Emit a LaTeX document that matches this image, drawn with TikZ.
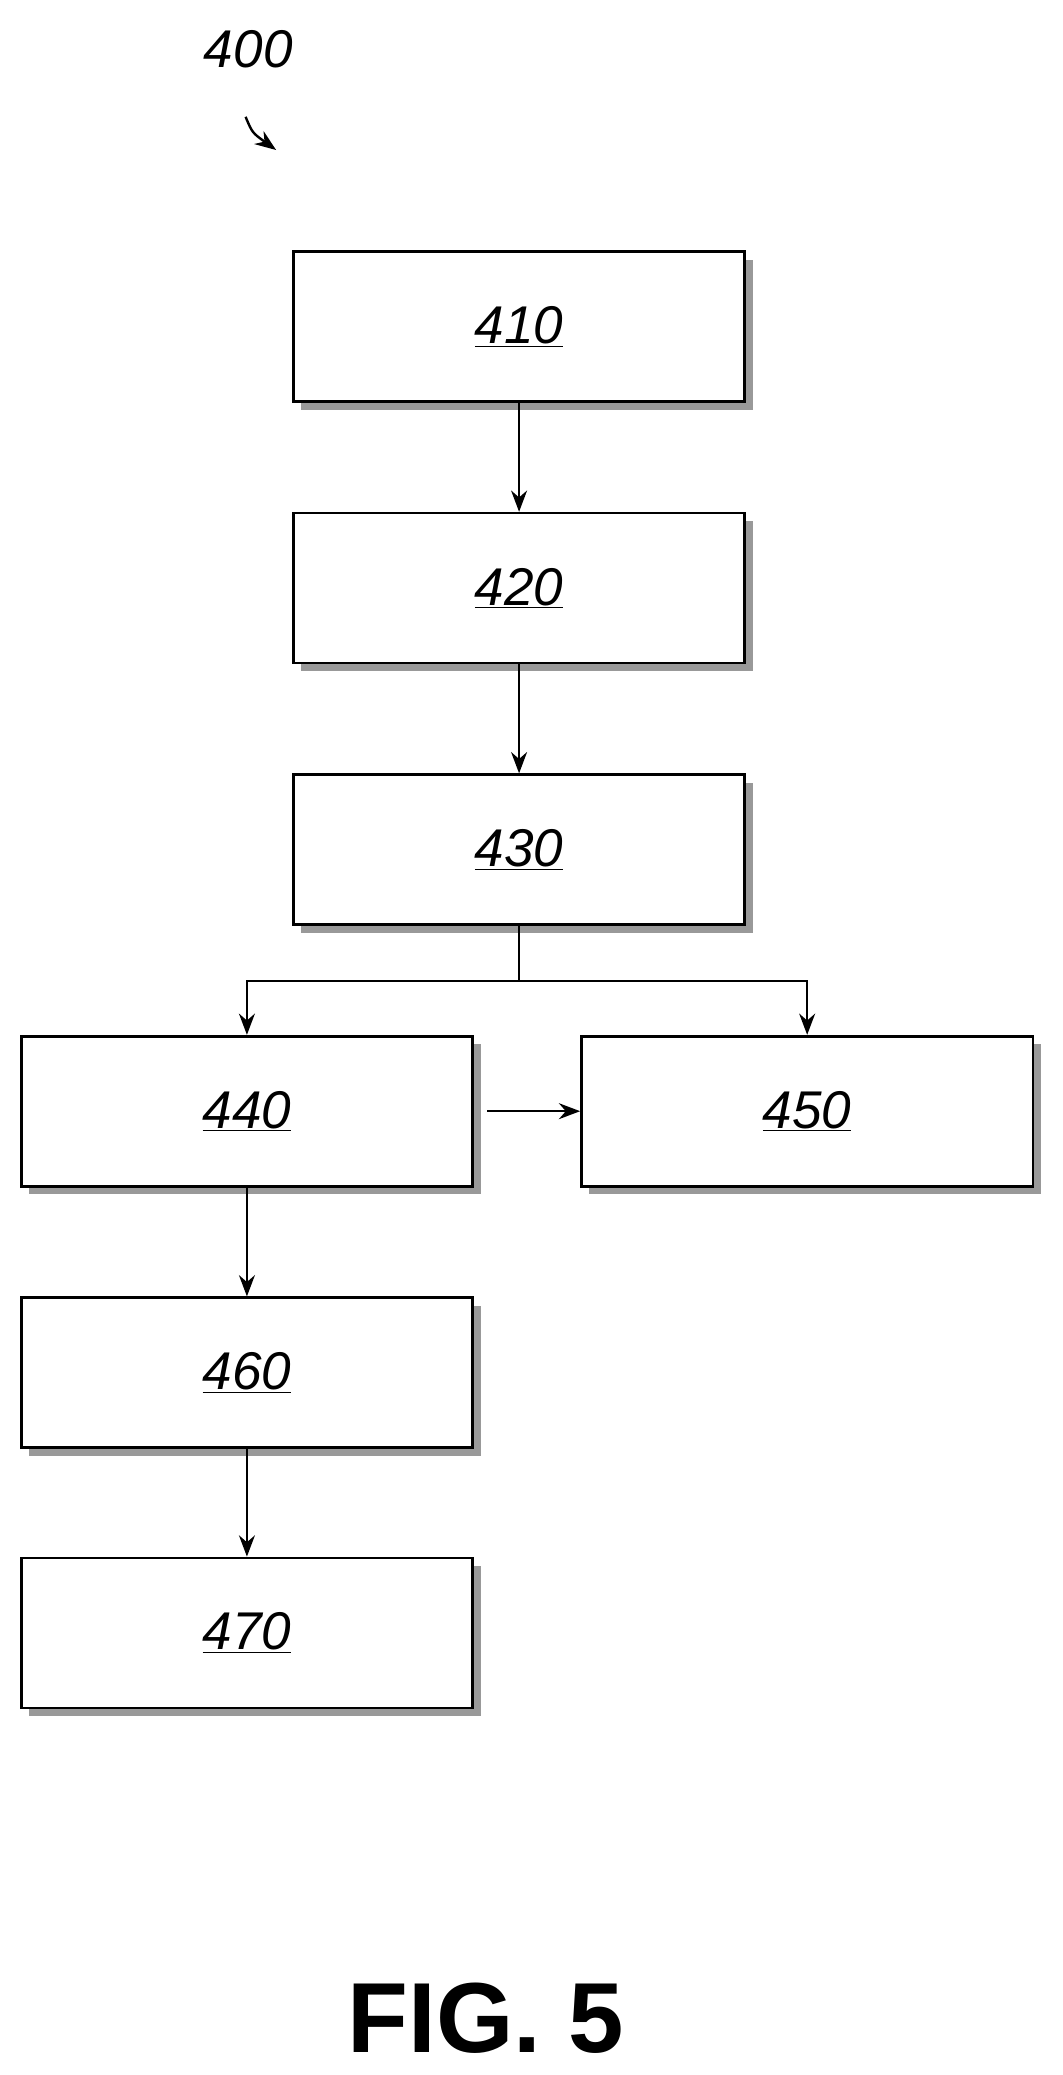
\documentclass[tikz,border=0pt]{standalone}
\usepackage{fontspec}
\setmainfont{Liberation Sans}
\usetikzlibrary{shadows,arrows.meta}
\tikzset{
    stepbox/.style={draw, line width=2pt, fill=white, minimum width=340pt, minimum height=113pt,
        font=\itshape\fontsize{40}{40}\selectfont,
        drop shadow={shadow xshift=6pt, shadow yshift=-6pt, fill=gray!80, opacity=1}},
    flow/.style={line width=1.8pt, -{Stealth[length=16pt, width=12pt]}}
}
\begin{document}
\begin{tikzpicture}[x=1pt, y=-1pt]
    \useasboundingbox (0,0) rectangle (800,1563);

    \node[stepbox] (s410) at (391,246) {\underline{410}};
    \node[stepbox] (s420) at (391,443) {\underline{420}};
    \node[stepbox] (s430) at (391,640) {\underline{430}};
    \node[stepbox] (s440) at (186,837) {\underline{440}};
    \node[stepbox] (s450) at (608,837) {\underline{450}};
    \node[stepbox] (s460) at (186,1034) {\underline{460}};
    \node[stepbox] (s470) at (186,1230) {\underline{470}};

    \node[font=\itshape\fontsize{40}{40}\selectfont] (lbl400) at (187,37) {400};
    \coordinate (tail) at (185,88);
    \coordinate (tip) at (208,113);
    \draw[flow] (tail) .. controls (190,100) .. (tip);

    \draw[flow] (s410) -- (s420);
    \draw[flow] (s420) -- (s430);
    \coordinate (split) at (391,739);
    \draw[line width=1.8pt] (s430.south) -- (split);
    \draw[flow] (split) -| (s440.north);
    \draw[flow] (split) -| (s450.north);
    \draw[flow] ([xshift=10pt]s440.east) -- (s450.west);
    \draw[flow] (s440) -- (s460);
    \draw[flow] (s460) -- (s470);

    \node[font=\bfseries\fontsize{75}{75}\selectfont] (fig) at (366,1520) {FIG. 5};
\end{tikzpicture}
\end{document}
